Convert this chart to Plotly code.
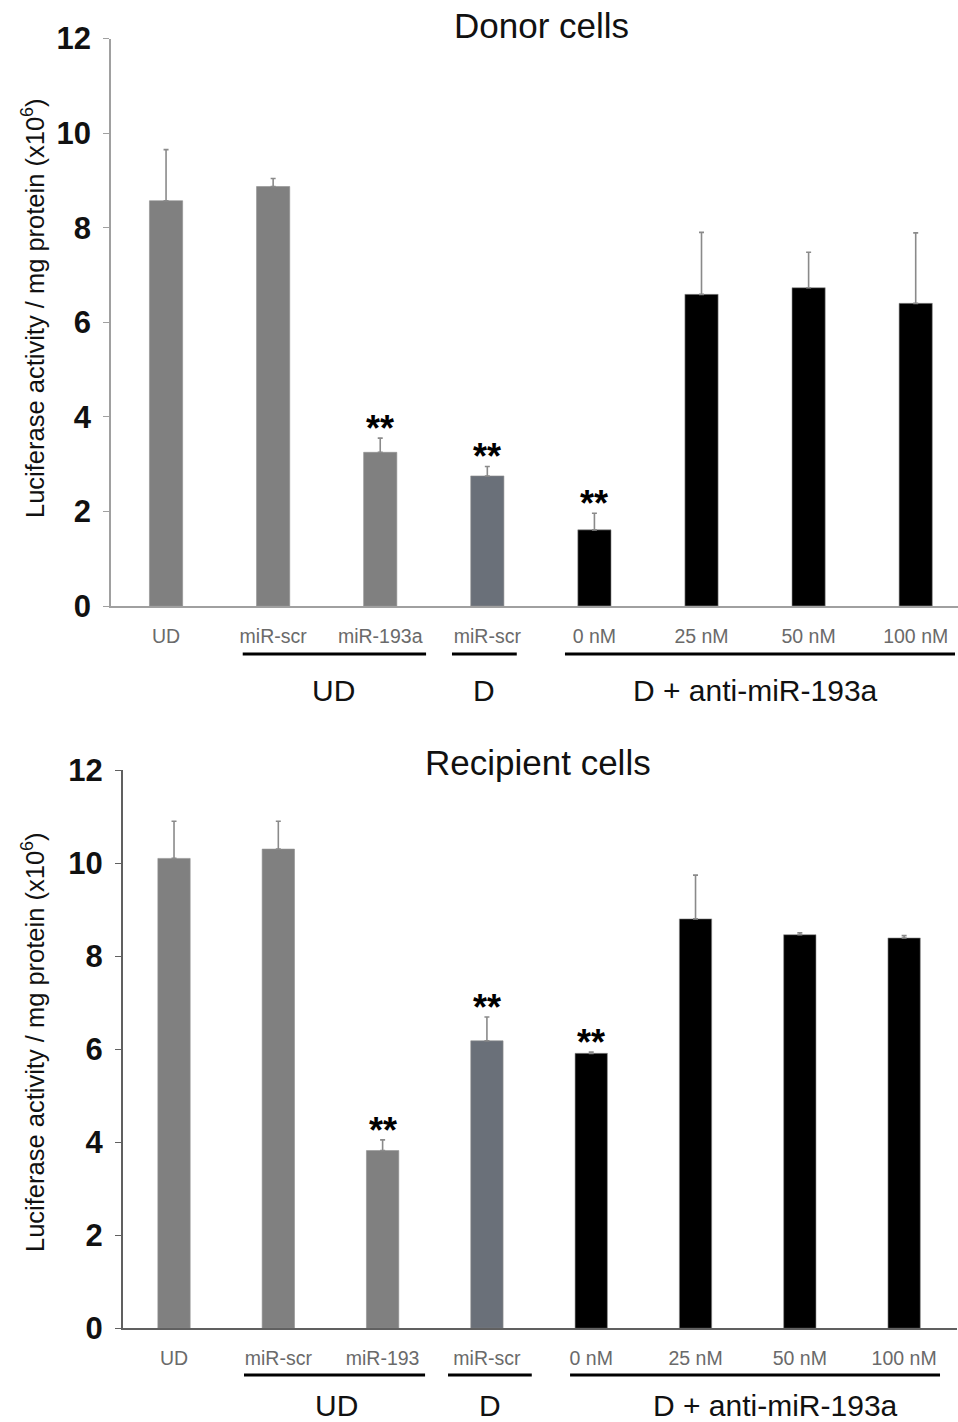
import plotly.graph_objects as go

categories = ["UD", "miR-scr", "miR-193a", "miR-scr", "0 nM", "25 nM", "50 nM", "100 nM"]
categories_recipient = ["UD", "miR-scr", "miR-193", "miR-scr", "0 nM", "25 nM", "50 nM", "100 nM"]

donor_values = [8.57, 8.87, 3.25, 2.75, 1.61, 6.59, 6.73, 6.40]
donor_errors = [1.08, 0.17, 0.30, 0.20, 0.35, 1.31, 0.75, 1.49]
donor_signif = ["", "", "**", "**", "**", "", "", ""]

recipient_values = [10.10, 10.30, 3.82, 6.18, 5.91, 8.80, 8.46, 8.39]
recipient_errors = [0.80, 0.60, 0.23, 0.51, 0.03, 0.94, 0.04, 0.05]
recipient_signif = ["", "", "**", "**", "**", "", "", ""]

bar_colors = ["#808080", "#808080", "#808080", "#6a7079", "#000000", "#000000", "#000000", "#000000"]

groups = ["UD", "D", "D + anti-miR-193a"]
y_ticks = [0, 2, 4, 6, 8, 10, 12]

W, H = 958, 1422
FONT = "Arial, 'Liberation Sans', sans-serif"

fig = go.Figure()

panels = [
    dict(cats=categories, vals=donor_values, errs=donor_errors, sig=donor_signif,
         xa="x", ya="y", xdom=(111 / W, 1.0), ydom=(1 - 606 / H, 1 - 38.5 / H),
         xrange=[-0.514, 7.395],
         title="Donor cells", title_xy=(541, 25), axis_col="#a0a0a0",
         ytitle_xy=(33, 308),
         line_y=654, label_y=690,
         group_spans=[(0.716, 2.428), (2.670, 3.275), (3.725, 7.367)],
         label_x=[333, 484, 755]),
    dict(cats=categories_recipient, vals=recipient_values, errs=recipient_errors, sig=recipient_signif,
         xa="x2", ya="y2", xdom=(122.7 / W, 956.7 / W), ydom=(1 - 1328.3 / H, 1 - 770 / H),
         xrange=[-0.492, 7.504],
         title="Recipient cells", title_xy=(538, 762), axis_col="#606060",
         ytitle_xy=(33, 1042),
         line_y=1375, label_y=1405,
         group_spans=[(0.671, 2.407), (2.627, 3.430), (3.797, 7.344)],
         label_x=[336, 490, 775]),
]

annotations = []
shapes = []

for i, p in enumerate(panels):
    idx = list(range(len(p["cats"])))
    fig.add_trace(go.Bar(
        x=idx, y=p["vals"], width=0.31,
        marker=dict(color=bar_colors, line=dict(color="#909090", width=0.6)),
        error_y=dict(type="data", array=p["errs"], arrayminus=[0] * len(p["errs"]),
                     symmetric=False, color="#8a8a8a", thickness=1.6, width=2.5),
        xaxis=p["xa"], yaxis=p["ya"], showlegend=False,
    ))
    axsuffix = "" if i == 0 else "2"
    fig.update_layout(**{
        "xaxis" + axsuffix: dict(
            domain=list(p["xdom"]), anchor=p["ya"], range=p["xrange"],
            tickmode="array", tickvals=idx, ticktext=p["cats"],
            showline=True, linecolor=p["axis_col"], linewidth=1.5,
            ticks="", showgrid=False, zeroline=False, automargin=False,
            tickfont=dict(family=FONT, size=19.5, color="#6a6a6a"),
            ticklabelstandoff=12,
        ),
        "yaxis" + axsuffix: dict(
            domain=list(p["ydom"]), anchor=p["xa"], range=[0, 12],
            tickmode="array", tickvals=y_ticks,
            showline=True, linecolor=p["axis_col"], linewidth=1.5,
            ticks="outside", ticklen=6, tickcolor=p["axis_col"], tickwidth=1.2,
            showgrid=False, zeroline=False, automargin=False,
            tickfont=dict(family=FONT, size=31, color="#111111", weight="bold"),
            ticklabelstandoff=6,
        ),
    })
    for j, s in enumerate(p["sig"]):
        if s:
            annotations.append(dict(
                x=j, y=p["vals"][j] + p["errs"][j], xref=p["xa"], yref=p["ya"],
                text=s, showarrow=False, yanchor="bottom", yshift=-13,
                font=dict(family=FONT, size=36, color="#000000", weight="bold"),
            ))
    annotations.append(dict(
        x=p["title_xy"][0] / W, y=1 - p["title_xy"][1] / H, xref="paper", yref="paper",
        text=p["title"], showarrow=False, xanchor="center", yanchor="middle",
        font=dict(family=FONT, size=35, color="#111111"),
    ))
    annotations.append(dict(
        x=p["ytitle_xy"][0] / W, y=1 - p["ytitle_xy"][1] / H, xref="paper", yref="paper",
        text="Luciferase activity / mg protein (x10<sup>6</sup>)", textangle=-90,
        showarrow=False, xanchor="center", yanchor="middle",
        font=dict(family=FONT, size=25.5, color="#111111"),
    ))
    for g, (x0, x1), lx in zip(groups, p["group_spans"], p["label_x"]):
        shapes.append(dict(
            type="line", xref=p["xa"], yref="paper", x0=x0, x1=x1,
            y0=1 - p["line_y"] / H, y1=1 - p["line_y"] / H,
            line=dict(color="#000000", width=3),
        ))
        annotations.append(dict(
            x=lx / W, y=1 - p["label_y"] / H, xref="paper", yref="paper",
            text=g, showarrow=False, xanchor="center", yanchor="middle",
            font=dict(family=FONT, size=30, color="#111111"),
        ))

fig.update_layout(
    width=W, height=H,
    margin=dict(l=0, r=0, t=0, b=0),
    paper_bgcolor="white", plot_bgcolor="white",
    annotations=annotations, shapes=shapes,
    bargap=0.69,
)

fig.write_html("out.html")
